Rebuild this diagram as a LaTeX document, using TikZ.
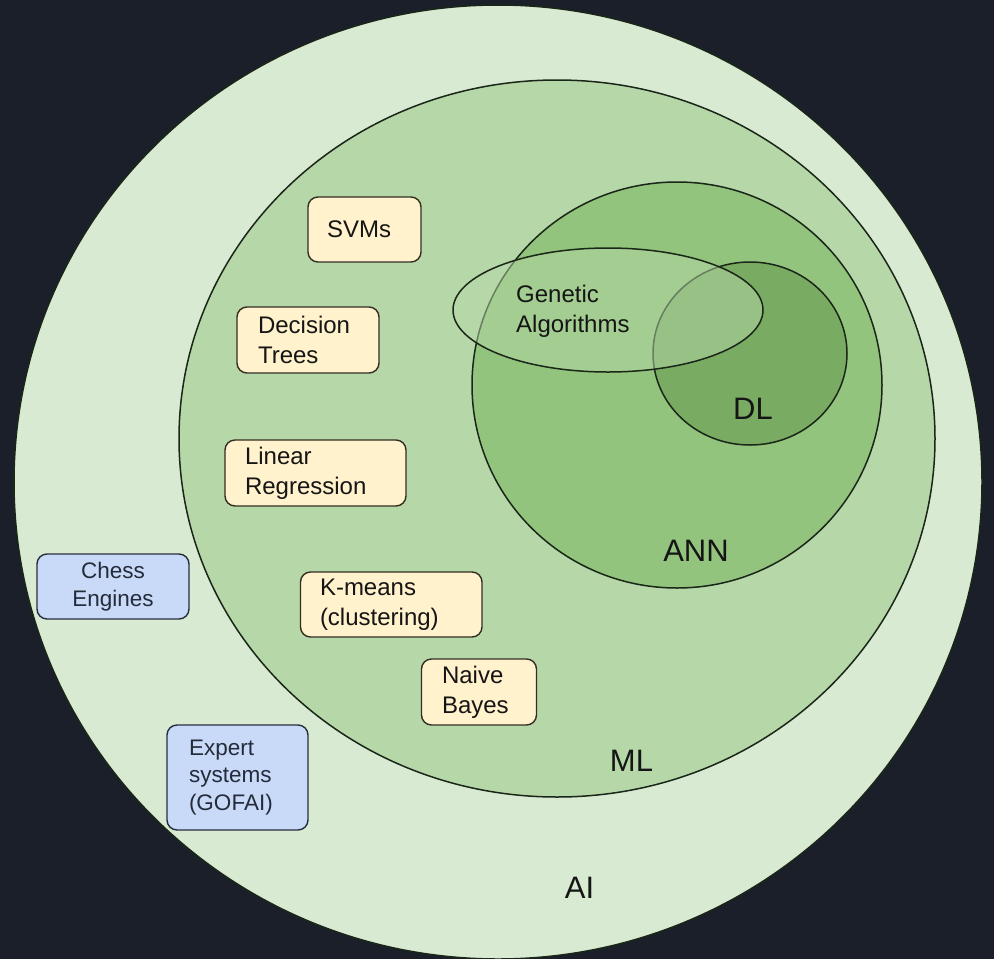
\documentclass[tikz,border=0pt]{standalone}
\usepackage{fontspec}
\setmainfont{Liberation Sans}
\usetikzlibrary{shapes.geometric}
\definecolor{bgc}{HTML}{1B1F2A}
\definecolor{aic}{HTML}{D9EAD3}
\definecolor{mlc}{HTML}{B6D7A8}
\definecolor{annc}{HTML}{93C47D}
\definecolor{dlc}{HTML}{7AAB62}
\definecolor{edgec}{HTML}{1A2618}
\definecolor{yfill}{HTML}{FFF2CC}
\definecolor{bfill}{HTML}{C9DAF8}
\definecolor{yline}{HTML}{332D22}
\definecolor{bline}{HTML}{262E3E}
\definecolor{txt}{HTML}{151515}
\definecolor{btxt}{HTML}{242B3A}
\begin{document}
\begin{tikzpicture}[x=1pt,y=-1pt,
  setnode/.style={ellipse, draw=edgec, line width=1.5pt, inner sep=0pt},
  ybox/.style={draw=yline, fill=yfill, line width=1.4pt, rounded corners=10pt,
    font=\fontsize{24}{30}\selectfont, text=txt, align=left, inner ysep=0pt},
  bbox/.style={draw=bline, fill=bfill, line width=1.4pt, rounded corners=10pt,
    font=\fontsize{22.5}{27.5}\selectfont, text=btxt, inner ysep=0pt},
  biglabel/.style={font=\fontsize{31}{36}\selectfont, text=txt, inner sep=0pt}
]
\fill[bgc] (0,0) rectangle (994,959);
\useasboundingbox (0,0) rectangle (994,959);

% sets
\node[setnode, fill=aic, minimum width=968pt, minimum height=954pt] (ai) at (498,482) {};
\node[setnode, fill=mlc, minimum width=756pt, minimum height=717pt] (ml) at (557,438.5) {};
\node[setnode, fill=annc, minimum width=410pt, minimum height=406pt] (ann) at (677,385) {};
\node[setnode, fill=dlc, minimum width=194pt, minimum height=183pt] (dl) at (750,353.5) {};
\node[setnode, fill=mlc, fill opacity=0.5, minimum width=310pt, minimum height=124pt] (ga) at (608,310) {};

% set labels
\node[biglabel] (dllabel) at (753,408.5) {DL};
\node[biglabel] (annlabel) at (696,551) {ANN};
\node[biglabel] (mllabel) at (631.5,760.5) {ML};
\node[biglabel] (ailabel) at (579.5,888) {AI};
\node[font=\fontsize{24}{30}\selectfont, text=txt, align=left, inner sep=0pt, anchor=west]
  (galabel) at (516,311) {Genetic\\Algorithms};

% ML methods
\node[ybox, text width=75pt, inner xsep=19pt, minimum height=65pt] (svm) at (364.5,229.5) {SVMs};
\node[ybox, text width=100pt, inner xsep=21pt, minimum height=66pt] (dt) at (308,340) {Decision\\Trees};
\node[ybox, text width=141pt, inner xsep=20pt, minimum height=66pt] (lr) at (315.5,473) {Linear\\Regression};
\node[ybox, text width=142.5pt, inner xsep=19.5pt, minimum height=65pt] (km) at (391.25,604.5) {K-means\\(clustering)};
\node[ybox, text width=74pt, inner xsep=20.5pt, minimum height=66pt] (nb) at (479,692) {Naive\\Bayes};

% other AI
\node[bbox, align=center, text width=120pt, inner xsep=16pt, minimum height=65pt] (chess) at (113,586.5) {Chess\\Engines};
\node[bbox, align=left, text width=97pt, inner xsep=22pt, minimum height=105pt] (expert) at (237.5,777.5) {Expert\\systems\\(GOFAI)};
\end{tikzpicture}
\end{document}
